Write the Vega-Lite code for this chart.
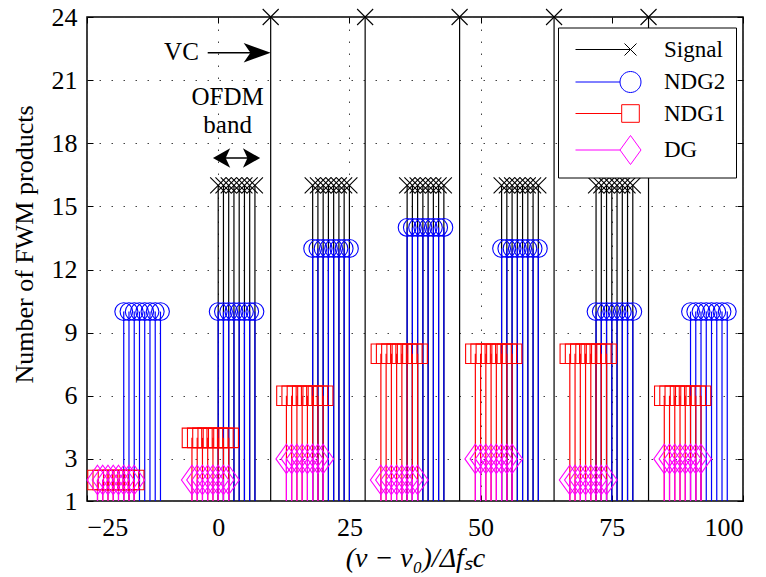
{
  "$schema": "https://vega.github.io/schema/vega-lite/v6.json",
  "width": 656,
  "height": 484,
  "autosize": "none",
  "padding": {"left": 87, "top": 17, "right": 23, "bottom": 76},
  "background": "white",
  "config": {
    "font": "Liberation Serif",
    "view": {"stroke": "black", "strokeWidth": 1.5},
    "axis": {
      "domain": false,
      "labelFont": "Liberation Serif",
      "labelFontSize": 26,
      "labelColor": "black",
      "titleFont": "Liberation Serif",
      "titleFontSize": 26,
      "titleFontWeight": "normal",
      "titleColor": "black",
      "tickColor": "black",
      "tickSize": -6,
      "tickWidth": 1,
      "gridColor": "#444444",
      "gridDash": [1.5, 10.5],
      "gridWidth": 1,
      "gridOpacity": 1
    }
  },
  "datasets": {
    "stems": [
      {"series":"Signal","x":0,"y":16},{"series":"Signal","x":1,"y":16},{"series":"Signal","x":2,"y":16},{"series":"Signal","x":3,"y":16},{"series":"Signal","x":4,"y":16},{"series":"Signal","x":5,"y":16},{"series":"Signal","x":6,"y":16},{"series":"Signal","x":7,"y":16},
      {"series":"Signal","x":18,"y":16},{"series":"Signal","x":19,"y":16},{"series":"Signal","x":20,"y":16},{"series":"Signal","x":21,"y":16},{"series":"Signal","x":22,"y":16},{"series":"Signal","x":23,"y":16},{"series":"Signal","x":24,"y":16},{"series":"Signal","x":25,"y":16},
      {"series":"Signal","x":36,"y":16},{"series":"Signal","x":37,"y":16},{"series":"Signal","x":38,"y":16},{"series":"Signal","x":39,"y":16},{"series":"Signal","x":40,"y":16},{"series":"Signal","x":41,"y":16},{"series":"Signal","x":42,"y":16},{"series":"Signal","x":43,"y":16},
      {"series":"Signal","x":54,"y":16},{"series":"Signal","x":55,"y":16},{"series":"Signal","x":56,"y":16},{"series":"Signal","x":57,"y":16},{"series":"Signal","x":58,"y":16},{"series":"Signal","x":59,"y":16},{"series":"Signal","x":60,"y":16},{"series":"Signal","x":61,"y":16},
      {"series":"Signal","x":72,"y":16},{"series":"Signal","x":73,"y":16},{"series":"Signal","x":74,"y":16},{"series":"Signal","x":75,"y":16},{"series":"Signal","x":76,"y":16},{"series":"Signal","x":77,"y":16},{"series":"Signal","x":78,"y":16},{"series":"Signal","x":79,"y":16},
      {"series":"Signal","x":10,"y":24},{"series":"Signal","x":28,"y":24},{"series":"Signal","x":46,"y":24},{"series":"Signal","x":64,"y":24},{"series":"Signal","x":82,"y":24},
      {"series":"NDG2","x":-18,"y":10},{"series":"NDG2","x":-17,"y":10},{"series":"NDG2","x":-16,"y":10},{"series":"NDG2","x":-15,"y":10},{"series":"NDG2","x":-14,"y":10},{"series":"NDG2","x":-13,"y":10},{"series":"NDG2","x":-12,"y":10},{"series":"NDG2","x":-11,"y":10},
      {"series":"NDG2","x":0,"y":10},{"series":"NDG2","x":1,"y":10},{"series":"NDG2","x":2,"y":10},{"series":"NDG2","x":3,"y":10},{"series":"NDG2","x":4,"y":10},{"series":"NDG2","x":5,"y":10},{"series":"NDG2","x":6,"y":10},{"series":"NDG2","x":7,"y":10},
      {"series":"NDG2","x":18,"y":13},{"series":"NDG2","x":19,"y":13},{"series":"NDG2","x":20,"y":13},{"series":"NDG2","x":21,"y":13},{"series":"NDG2","x":22,"y":13},{"series":"NDG2","x":23,"y":13},{"series":"NDG2","x":24,"y":13},{"series":"NDG2","x":25,"y":13},
      {"series":"NDG2","x":36,"y":14},{"series":"NDG2","x":37,"y":14},{"series":"NDG2","x":38,"y":14},{"series":"NDG2","x":39,"y":14},{"series":"NDG2","x":40,"y":14},{"series":"NDG2","x":41,"y":14},{"series":"NDG2","x":42,"y":14},{"series":"NDG2","x":43,"y":14},
      {"series":"NDG2","x":54,"y":13},{"series":"NDG2","x":55,"y":13},{"series":"NDG2","x":56,"y":13},{"series":"NDG2","x":57,"y":13},{"series":"NDG2","x":58,"y":13},{"series":"NDG2","x":59,"y":13},{"series":"NDG2","x":60,"y":13},{"series":"NDG2","x":61,"y":13},
      {"series":"NDG2","x":72,"y":10},{"series":"NDG2","x":73,"y":10},{"series":"NDG2","x":74,"y":10},{"series":"NDG2","x":75,"y":10},{"series":"NDG2","x":76,"y":10},{"series":"NDG2","x":77,"y":10},{"series":"NDG2","x":78,"y":10},{"series":"NDG2","x":79,"y":10},
      {"series":"NDG2","x":90,"y":10},{"series":"NDG2","x":91,"y":10},{"series":"NDG2","x":92,"y":10},{"series":"NDG2","x":93,"y":10},{"series":"NDG2","x":94,"y":10},{"series":"NDG2","x":95,"y":10},{"series":"NDG2","x":96,"y":10},{"series":"NDG2","x":97,"y":10},
      {"series":"NDG1","x":-23,"y":2},{"series":"NDG1","x":-22,"y":2},{"series":"NDG1","x":-21,"y":2},{"series":"NDG1","x":-20,"y":2},{"series":"NDG1","x":-19,"y":2},{"series":"NDG1","x":-18,"y":2},{"series":"NDG1","x":-17,"y":2},{"series":"NDG1","x":-16,"y":2},
      {"series":"NDG1","x":-5,"y":4},{"series":"NDG1","x":-4,"y":4},{"series":"NDG1","x":-3,"y":4},{"series":"NDG1","x":-2,"y":4},{"series":"NDG1","x":-1,"y":4},{"series":"NDG1","x":0,"y":4},{"series":"NDG1","x":1,"y":4},{"series":"NDG1","x":2,"y":4},
      {"series":"NDG1","x":13,"y":6},{"series":"NDG1","x":14,"y":6},{"series":"NDG1","x":15,"y":6},{"series":"NDG1","x":16,"y":6},{"series":"NDG1","x":17,"y":6},{"series":"NDG1","x":18,"y":6},{"series":"NDG1","x":19,"y":6},{"series":"NDG1","x":20,"y":6},
      {"series":"NDG1","x":31,"y":8},{"series":"NDG1","x":32,"y":8},{"series":"NDG1","x":33,"y":8},{"series":"NDG1","x":34,"y":8},{"series":"NDG1","x":35,"y":8},{"series":"NDG1","x":36,"y":8},{"series":"NDG1","x":37,"y":8},{"series":"NDG1","x":38,"y":8},
      {"series":"NDG1","x":49,"y":8},{"series":"NDG1","x":50,"y":8},{"series":"NDG1","x":51,"y":8},{"series":"NDG1","x":52,"y":8},{"series":"NDG1","x":53,"y":8},{"series":"NDG1","x":54,"y":8},{"series":"NDG1","x":55,"y":8},{"series":"NDG1","x":56,"y":8},
      {"series":"NDG1","x":67,"y":8},{"series":"NDG1","x":68,"y":8},{"series":"NDG1","x":69,"y":8},{"series":"NDG1","x":70,"y":8},{"series":"NDG1","x":71,"y":8},{"series":"NDG1","x":72,"y":8},{"series":"NDG1","x":73,"y":8},{"series":"NDG1","x":74,"y":8},
      {"series":"NDG1","x":85,"y":6},{"series":"NDG1","x":86,"y":6},{"series":"NDG1","x":87,"y":6},{"series":"NDG1","x":88,"y":6},{"series":"NDG1","x":89,"y":6},{"series":"NDG1","x":90,"y":6},{"series":"NDG1","x":91,"y":6},{"series":"NDG1","x":92,"y":6},
      {"series":"DG","x":-23,"y":2},{"series":"DG","x":-22,"y":2},{"series":"DG","x":-21,"y":2},{"series":"DG","x":-20,"y":2},{"series":"DG","x":-19,"y":2},{"series":"DG","x":-18,"y":2},{"series":"DG","x":-17,"y":2},{"series":"DG","x":-16,"y":2},
      {"series":"DG","x":-5,"y":2},{"series":"DG","x":-4,"y":2},{"series":"DG","x":-3,"y":2},{"series":"DG","x":-2,"y":2},{"series":"DG","x":-1,"y":2},{"series":"DG","x":0,"y":2},{"series":"DG","x":1,"y":2},{"series":"DG","x":2,"y":2},
      {"series":"DG","x":13,"y":3},{"series":"DG","x":14,"y":3},{"series":"DG","x":15,"y":3},{"series":"DG","x":16,"y":3},{"series":"DG","x":17,"y":3},{"series":"DG","x":18,"y":3},{"series":"DG","x":19,"y":3},{"series":"DG","x":20,"y":3},
      {"series":"DG","x":31,"y":2},{"series":"DG","x":32,"y":2},{"series":"DG","x":33,"y":2},{"series":"DG","x":34,"y":2},{"series":"DG","x":35,"y":2},{"series":"DG","x":36,"y":2},{"series":"DG","x":37,"y":2},{"series":"DG","x":38,"y":2},
      {"series":"DG","x":49,"y":3},{"series":"DG","x":50,"y":3},{"series":"DG","x":51,"y":3},{"series":"DG","x":52,"y":3},{"series":"DG","x":53,"y":3},{"series":"DG","x":54,"y":3},{"series":"DG","x":55,"y":3},{"series":"DG","x":56,"y":3},
      {"series":"DG","x":67,"y":2},{"series":"DG","x":68,"y":2},{"series":"DG","x":69,"y":2},{"series":"DG","x":70,"y":2},{"series":"DG","x":71,"y":2},{"series":"DG","x":72,"y":2},{"series":"DG","x":73,"y":2},{"series":"DG","x":74,"y":2},
      {"series":"DG","x":85,"y":3},{"series":"DG","x":86,"y":3},{"series":"DG","x":87,"y":3},{"series":"DG","x":88,"y":3},{"series":"DG","x":89,"y":3},{"series":"DG","x":90,"y":3},{"series":"DG","x":91,"y":3},{"series":"DG","x":92,"y":3}
    ],
    "notes": [
      {"nx": -7, "ny": 22.35, "label": "VC"},
      {"nx": 1.8, "ny": 20.2, "label": "OFDM"},
      {"nx": 1.8, "ny": 18.85, "label": "band"}
    ],
    "arrows": [
      {"a1": -2, "a2": 9, "ay": 22.3},
      {"a1": 0, "a2": 7, "ay": 17.3}
    ],
    "heads": [
      {"hx": 10, "hy": 22.3, "kind": "vc"},
      {"hx": -1, "hy": 17.3, "kind": "left"},
      {"hx": 8, "hy": 17.3, "kind": "right"}
    ]
  },
  "layer": [
    {
      "data": {"name": "stems"},
      "mark": {"type": "rule", "strokeWidth": 1.2},
      "encoding": {
        "x": {"field": "x", "type": "quantitative",
          "scale": {"domain": [-25, 100], "nice": false, "zero": false},
          "axis": {"values": [-25, 0, 25, 50, 75, 100], "grid": true, "title": "(ν − ν₀)/Δfₛc", "titleFontStyle": "italic", "titleFontSize": 28, "labelPadding": 19, "titlePadding": 4}},
        "y": {"field": "y", "type": "quantitative",
          "scale": {"domain": [1, 24], "nice": false, "zero": false},
          "axis": {"values": [1, 3, 6, 9, 12, 15, 18, 21, 24], "grid": true, "title": "Number of FWM products", "labelPadding": 16, "titlePadding": 14, "titleY": 227}},
        "y2": {"datum": 1},
        "color": {"field": "series", "type": "nominal",
          "scale": {"domain": ["Signal", "NDG2", "NDG1", "DG"], "range": ["#000000", "#0000ff", "#ff0000", "#ff00ff"]},
          "legend": {
            "orient": "none", "legendX": 471, "legendY": 10.5, "title": null,
            "strokeColor": "black", "fillColor": "white", "padding": 10.5,
            "labelFont": "Liberation Serif", "labelFontSize": 23, "labelColor": "black",
            "symbolSize": 400, "labelOffset": 72.5, "rowPadding": 7.5,
            "encode": {"symbols": {"update": {
              "shape": {"signal": "datum.value === 'Signal' ? 'M-0.45,0H5.05M4.45,-0.6L5.65,0.6M4.45,0.6L5.65,-0.6' : datum.value === 'NDG2' ? 'M-0.45,0H4M6.1,0A1.05,1.05,0,1,1,4,0A1.05,1.05,0,1,1,6.1,0' : datum.value === 'NDG1' ? 'M-0.45,0H4.17M4.17,-0.88H5.93V0.88H4.17Z' : 'M-0.45,0H4M5.05,-1.45L6.1,0L5.05,1.45L4,0Z'"},
              "fill": {"value": "transparent"},
              "strokeWidth": {"value": 1},
              "size": {"value": 400},
              "opacity": {"value": 1}
            }}}
          }}
      }
    },
    {
      "data": {"name": "stems"},
      "mark": {"type": "point", "filled": false, "strokeWidth": 1.1, "opacity": 1},
      "encoding": {
        "x": {"field": "x", "type": "quantitative", "scale": {"domain": [-25, 100]},
          "axis": {"orient": "top", "values": [-25, 0, 25, 50, 75, 100], "labels": false, "grid": false, "title": null}},
        "y": {"field": "y", "type": "quantitative", "scale": {"domain": [1, 24]},
          "axis": {"orient": "right", "values": [1, 3, 6, 9, 12, 15, 18, 21, 24], "labels": false, "grid": false, "title": null}},
        "color": {"field": "series", "type": "nominal"},
        "shape": {"field": "series", "type": "nominal",
          "scale": {"domain": ["Signal", "NDG2", "NDG1", "DG"], "range": ["M-1,-1L1,1M-1,1L1,-1", "circle", "square", "M0,-1.4L1,0L0,1.4L-1,0Z"]},
          "legend": null},
        "size": {"field": "series", "type": "nominal",
          "scale": {"domain": ["Signal", "NDG2", "NDG1", "DG"], "range": [256, 441, 300, 400]},
          "legend": null}
      }
    },
    {
      "data": {"name": "notes"},
      "mark": {"type": "text", "font": "Liberation Serif", "fontSize": 25, "color": "black", "align": "center", "baseline": "middle"},
      "encoding": {
        "x": {"field": "nx", "type": "quantitative", "axis": null},
        "y": {"field": "ny", "type": "quantitative", "axis": null},
        "text": {"field": "label"}
      }
    },
    {
      "data": {"name": "arrows"},
      "mark": {"type": "rule", "strokeWidth": 1.5, "color": "black"},
      "encoding": {
        "x": {"field": "a1", "type": "quantitative", "axis": null},
        "x2": {"field": "a2"},
        "y": {"field": "ay", "type": "quantitative", "axis": null}
      }
    },
    {
      "data": {"name": "heads"},
      "mark": {"type": "point", "filled": true, "color": "black", "size": 900, "opacity": 1, "strokeWidth": 0},
      "encoding": {
        "x": {"field": "hx", "type": "quantitative", "axis": null},
        "y": {"field": "hy", "type": "quantitative", "axis": null},
        "shape": {"field": "kind", "type": "nominal",
          "scale": {"domain": ["vc", "left", "right"], "range": ["M0,0L-1.8,-0.65L-1.35,0L-1.8,0.65Z", "M0,0L1.15,-0.65L0.85,0L1.15,0.65Z", "M0,0L-1.15,-0.65L-0.85,0L-1.15,0.65Z"]},
          "legend": null}
      }
    }
  ],
  "resolve": {
    "scale": {"shape": "independent", "size": "independent"},
    "axis": {"x": "independent", "y": "independent"}
  }
}
